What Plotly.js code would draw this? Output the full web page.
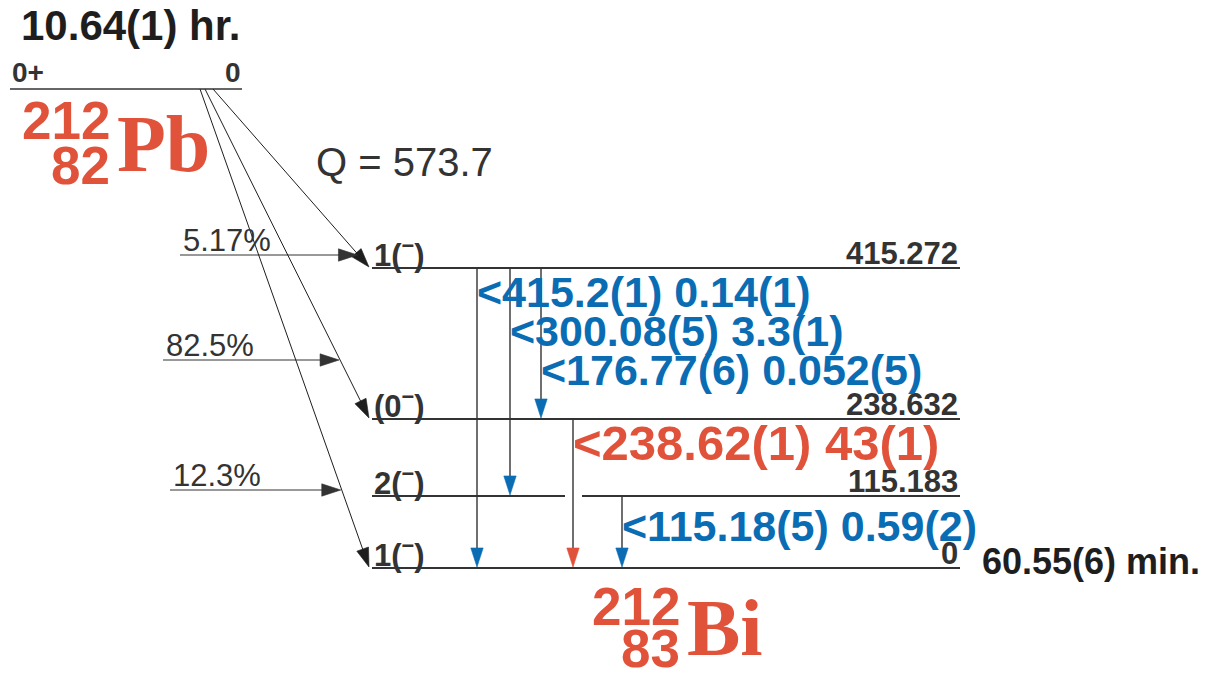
<!DOCTYPE html>
<html><head><meta charset="utf-8">
<script src="https://cdn.plot.ly/plotly-3.0.1.min.js"></script>
<style>html,body{margin:0;padding:0;background:#fff}#chart{width:1214px;height:673px}</style>
</head><body><div id="chart"></div>
<script>
// ---------------- data ----------------
const parentSymbol = "Pb";
const parentA = 212;
const parentZ = 82;
const parentHalfLife = "10.64(1) hr.";
const parentSpin = "0+";
const parentEnergy = "0";
const daughterSymbol = "Bi";
const daughterA = 212;
const daughterZ = 83;
const daughterHalfLife = "60.55(6) min.";
const qValue = "573.7";

const levelEnergies = [415.272, 238.632, 115.183, 0];
const levelLabels = ["415.272", "238.632", "115.183", "0"];
const levelSpins = ["1(<sup>−</sup>)", "(0<sup>−</sup>)", "2(<sup>−</sup>)", "1(<sup>−</sup>)"];

const betaToLevel = [415.272, 238.632, 0];
const betaBranch = ["5.17%", "82.5%", "12.3%"];

const gammaEnergy = ["415.2(1)", "300.08(5)", "176.77(6)", "238.62(1)", "115.18(5)"];
const gammaIntensity = ["0.14(1)", "3.3(1)", "0.052(5)", "43(1)", "0.59(2)"];
const gammaFrom = [415.272, 415.272, 415.272, 238.632, 115.183];
const gammaTo = [0, 115.183, 238.632, 0, 0];

// ---------------- drawing geometry / style ----------------
const W = 1214, H = 673;
const RED = "#E0533A", BLUE = "#0A6DB3", DARK = "#333333", INK = "#1e1e1e";
const SANS = "Liberation Sans, Arial, Helvetica, sans-serif";
const SERIF = "Liberation Serif, Times New Roman, serif";
const levelRows = [268, 419, 496, 568];            // vertical slot of each level in the drawing
const rowOf = e => levelRows[levelEnergies.indexOf(e)];
const parentRow = 89, parentX0 = 10, parentX1 = 242;
const levelX0 = 372, levelX1 = 960;
const betaStartX = [213, 205, 200], betaEndX = 369;
const branchRows = [255, 360, 490], branchStartX = [180, 163, 170];
const gammaX = [477, 510, 541, 573, 622];
const gammaLabelY = [292, 331, 370, 443, 526];
const strong = gammaIntensity.map(s => parseFloat(s) > 10);

const traces = [];
const line = (x, y, color, width) => ({x, y, mode: "lines", line: {color, width}, hoverinfo: "skip", type: "scatter"});
const arrow = (x, y, lc, lw, hc, hs) => ({x, y, mode: "lines+markers", type: "scatter", hoverinfo: "skip",
  line: {color: lc, width: lw},
  marker: {symbol: "arrow", size: [0, hs], color: hc, opacity: 1, angleref: "previous", line: {width: 0.6, color: hc}}});

// parent level
traces.push(line([parentX0, parentX1], [parentRow, parentRow], DARK, 1.6));

// daughter levels (with a gap where a strong gamma crosses)
levelEnergies.forEach((e, i) => {
  const y = rowOf(e);
  let xs = [levelX0, levelX1], ys = [y, y];
  gammaFrom.forEach((f, g) => {
    if (strong[g] && f > e && gammaTo[g] < e) {
      xs = [levelX0, gammaX[g] - 8, null, gammaX[g] + 9, levelX1];
      ys = [y, y, null, y, y];
    }
  });
  traces.push(line(xs, ys, DARK, 1.8));
});

// beta feeding arrows and branching arrows
betaToLevel.forEach((e, i) => {
  const yEnd = rowOf(e) - 1;
  traces.push(arrow([betaStartX[i], betaEndX], [parentRow, yEnd], INK, 1, INK, 20));
  const t = (branchRows[i] - parentRow) / (yEnd - parentRow);
  const xi = betaStartX[i] + t * (betaEndX - betaStartX[i]) - 1;
  traces.push(arrow([branchStartX[i], xi], [branchRows[i], branchRows[i]], DARK, 1, DARK, 20));
});

// gamma transitions
gammaEnergy.forEach((g, i) => {
  traces.push(arrow([gammaX[i], gammaX[i]], [rowOf(gammaFrom[i]), rowOf(gammaTo[i]) - 1],
    DARK, 1.4, strong[i] ? RED : BLUE, 20));
});

// ---------------- text ----------------
const ann = [];
const txt = (x, y, text, size, color, xanchor, family, bold) => ann.push({
  x, y, xref: "x", yref: "y", text: bold ? "<b>" + text + "</b>" : text, showarrow: false,
  xanchor, yanchor: "middle", font: {size, color, family: family || SANS}});

txt(19, 25, parentHalfLife, 42, INK, "left", SANS, true);
txt(parentX0, 72, parentSpin, 28, DARK, "left", SANS, true);
txt(parentX1 + 1, 72, parentEnergy, 28, DARK, "right", SANS, true);
txt(112, 120, String(parentA), 53, RED, "right", SANS, true);
txt(112, 165, String(parentZ), 53, RED, "right", SANS, true);
txt(115, 144, parentSymbol, 80, RED, "left", SERIF, true);
txt(314, 162, "Q = " + qValue, 40, DARK, "left", SANS, false);

betaBranch.forEach((b, i) => txt(branchStartX[i] + 1, branchRows[i] - 15, b, 31, DARK, "left", SANS, false));

levelEnergies.forEach((e, i) => {
  const y = rowOf(e);
  txt(levelX0, y - 15, levelSpins[i], 31, DARK, "left", SANS, true);
  txt(levelX1, y - 15, levelLabels[i], 31, DARK, "right", SANS, true);
});
txt(980, rowOf(0) - 7, daughterHalfLife, 36, INK, "left", SANS, true);

gammaEnergy.forEach((g, i) => {
  txt(gammaX[i] - 2, gammaLabelY[i], "&lt;" + g + " " + gammaIntensity[i],
      strong[i] ? 49 : 43, strong[i] ? RED : BLUE, "left", SANS, true);
});

txt(682, 606, String(daughterA), 53, RED, "right", SANS, true);
txt(682, 648, String(daughterZ), 53, RED, "right", SANS, true);
txt(685, 628, daughterSymbol, 80, RED, "left", SERIF, true);

const layout = {
  width: W, height: H, margin: {l: 0, r: 0, t: 0, b: 0},
  paper_bgcolor: "#fff", plot_bgcolor: "#fff", showlegend: false, hovermode: false,
  xaxis: {range: [0, W], visible: false, fixedrange: true},
  yaxis: {range: [H, 0], visible: false, fixedrange: true},
  annotations: ann
};
Plotly.newPlot("chart", traces, layout, {displayModeBar: false, staticPlot: true});
</script></body></html>
